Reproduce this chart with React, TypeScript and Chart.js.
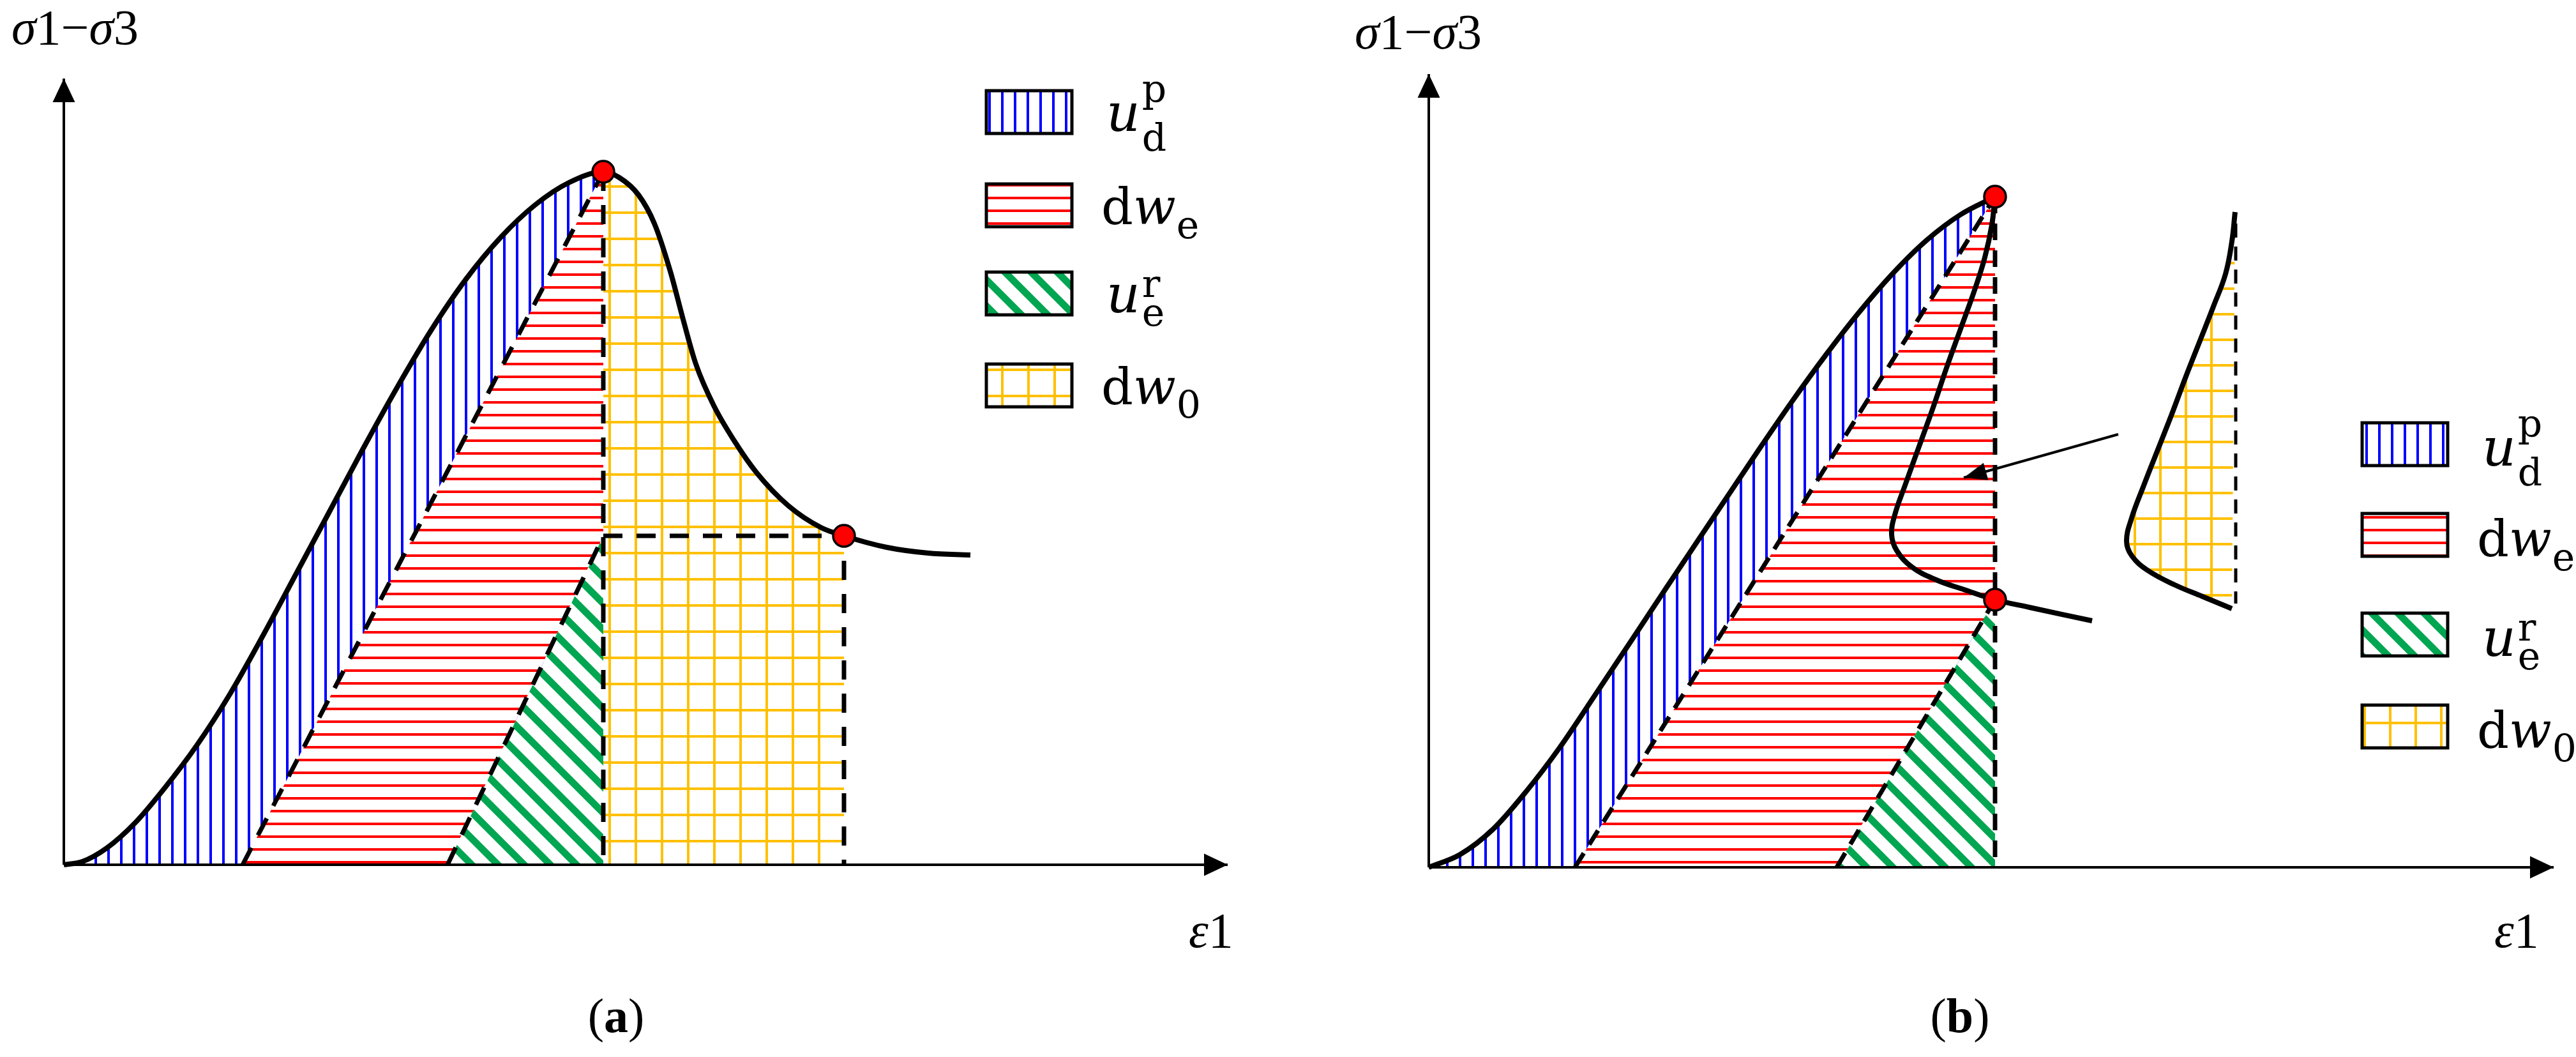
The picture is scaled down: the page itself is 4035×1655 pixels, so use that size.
import React, { useEffect, useRef } from 'react';
import { Chart, registerables } from 'chart.js';

Chart.register(...registerables);

const PAGE_W = 4035;
const PAGE_H = 1655;
const SPLIT_X = 2017;

// ================= Panel (a): strain-softening curve (schematic units) =================
const aCurveX = [0, 0.29, 0.67, 1.12, 1.57, 2.09, 2.6, 3.12, 3.63, 4.15, 4.69, 5.23, 5.76, 6.3, 6.84, 7.38, 7.91, 8.45, 8.7, 9.0, 9.25, 9.5, 9.7, 9.9, 10.18, 10.5, 10.85, 11.35, 11.86, 12.22, 12.89, 13.54, 14.2];
const aCurveY = [0, 0.05, 0.26, 0.66, 1.19, 1.88, 2.67, 3.59, 4.54, 5.51, 6.52, 7.49, 8.38, 9.17, 9.82, 10.33, 10.68, 10.85, 10.76, 10.49, 10.04, 9.29, 8.54, 7.84, 7.19, 6.64, 6.14, 5.62, 5.28, 5.15, 4.97, 4.88, 4.85];
const aPeakUnloadX = [2.8, 8.45];
const aPeakUnloadY = [0, 10.85];
const aResUnloadX = [6.01, 8.45];
const aResUnloadY = [0, 5.15];
const aPeakDropX = [8.45, 8.45];
const aPeakDropY = [10.85, 0];
const aResGuideX = [8.45, 12.22, 12.22];
const aResGuideY = [5.15, 5.15, 0];
const aDotX = [8.45, 12.22];
const aDotY = [10.85, 5.15];
const aAxisTip = [18.23, 12.31];

// ================= Panel (b): snap-back curve (schematic units) =================
const bLoadX = [0, 0.49, 1.01, 1.52, 2.04, 2.62, 3.2, 3.71, 4.62, 5.15, 5.68, 6.21, 6.74, 7.27, 7.8, 8.33, 8.87];
const bLoadY = [0, 0.2, 0.6, 1.18, 1.86, 2.72, 3.59, 4.36, 5.72, 6.51, 7.28, 8.01, 8.69, 9.3, 9.82, 10.22, 10.5];
const bSnapX = [8.87, 8.82, 8.71, 8.55, 8.33, 8.11, 7.9, 7.68, 7.46, 7.3, 7.25, 7.33, 7.57, 7.95, 8.38, 8.87, 9.41, 10.39];
const bSnapY = [10.5, 10.06, 9.55, 9.04, 8.43, 7.82, 7.2, 6.59, 5.98, 5.52, 5.21, 4.96, 4.7, 4.5, 4.35, 4.19, 4.07, 3.86];
const bInsetX = [12.63, 12.58, 12.48, 12.29, 12.07, 11.85, 11.64, 11.42, 11.2, 11.01, 10.93, 11.01, 11.26, 11.69, 12.12, 12.58];
const bInsetY = [10.26, 9.8, 9.29, 8.78, 8.22, 7.66, 7.1, 6.54, 5.98, 5.47, 5.11, 4.88, 4.65, 4.42, 4.24, 4.05];
const bInsetEdgeX = [12.64, 12.64];
const bInsetEdgeY = [10.08, 4.13];
const bPeakUnloadX = [2.29, 8.87];
const bPeakUnloadY = [0, 10.5];
const bResUnloadX = [6.39, 8.87];
const bResUnloadY = [0, 4.19];
const bPeakDropX = [8.87, 8.87];
const bPeakDropY = [10.5, 0];
const bDotX = [8.87, 8.87];
const bDotY = [10.5, 4.19];
const bPointerX = [10.8, 8.38];
const bPointerY = [6.78, 6.1];
const bAxisTip = [17.62, 12.42];

// ================= Text =================
const legendLabels = ['u_d^p', 'dw_e', 'u_e^r', 'dw_0'];
const axisTitleY = 'σ1−σ3';
const axisTitleX = 'ε1';
const panelTags = ['a', 'b'];

// ================= styling helpers =================
const SERIF = "'Liberation Serif', 'Times New Roman', serif";
const MATH = "'DejaVu Serif', serif";
const BLUE = '#0000FF';
const RED = '#FF0000';
const GREEN = '#00A651';
const YELLOW = '#FFC000';
const NONE = 'rgba(0,0,0,0)';

const zip = (xs: number[], ys: number[]) => xs.map((x, i) => ({ x, y: ys[i] }));

function tile(w: number, h: number, draw: (g: CanvasRenderingContext2D) => void) {
  const c = document.createElement('canvas');
  c.width = w;
  c.height = h;
  const g = c.getContext('2d')!;
  g.fillStyle = '#fff';
  g.fillRect(0, 0, w, h);
  draw(g);
  return c;
}

function makePatterns(ctx: CanvasRenderingContext2D, gridStep: number, gx: number, gy: number) {
  const blue = ctx.createPattern(tile(20, 20, (g) => { g.fillStyle = BLUE; g.fillRect(8, 0, 4, 20); }), 'repeat');
  const red = ctx.createPattern(tile(20, 20, (g) => { g.fillStyle = RED; g.fillRect(0, 8, 20, 4); }), 'repeat');
  const green = ctx.createPattern(tile(41, 41, (g) => {
    g.strokeStyle = GREEN;
    g.lineWidth = 11;
    g.beginPath();
    for (const k of [-1, 0, 1]) {
      g.moveTo(-41, -41 + k * 41);
      g.lineTo(82, 82 + k * 41);
    }
    g.stroke();
  }), 'repeat');
  const yellow = ctx.createPattern(tile(gridStep, gridStep, (g) => {
    g.fillStyle = YELLOW;
    g.fillRect(gx, 0, 4, gridStep);
    g.fillRect(0, gy, gridStep, 4);
  }), 'repeat');
  return { blue, red, green, yellow } as any;
}

function arrowHead(len: number, width: number) {
  const s = Math.ceil(len) * 2 + 4;
  const c = document.createElement('canvas');
  c.width = s;
  c.height = s;
  const g = c.getContext('2d')!;
  const m = s / 2;
  g.fillStyle = '#000';
  g.beginPath();
  g.moveTo(m, m);
  g.lineTo(m - len, m - width / 2);
  g.lineTo(m - len, m + width / 2);
  g.closePath();
  g.fill();
  return c;
}

type Run = { t: string; f?: string; size: number; dy?: number; dx?: number; stack?: boolean };

function drawRuns(ctx: CanvasRenderingContext2D, x: number, y: number, runs: Run[], family: string, draw = true) {
  let pen = x;
  let lastX = x;
  let end = x;
  for (const r of runs) {
    ctx.font = `${r.f ? r.f + ' ' : ''}${r.size}px ${family}`;
    const w = ctx.measureText(r.t).width;
    const rx = r.stack ? lastX : pen + (r.dx || 0);
    if (draw) ctx.fillText(r.t, rx, y + (r.dy || 0));
    lastX = rx;
    end = Math.max(end, rx + w);
    pen = end;
  }
  return end - x;
}

const mathRuns = (s: string, size: number): Run[] =>
  [...s].map((ch) => ({ t: ch, size, f: /[α-ω]/.test(ch) ? 'italic' : undefined }));

const scriptShift: Record<string, [number, number]> = { 'u_d^p': [-45, 31], 'u_e^r': [-24, 21] };

function legendRuns(label: string): Run[] {
  const [head, sup] = label.split('^');
  const [base, sub] = head.split('_');
  const runs: Run[] = [...base].map((ch) => ({
    t: ch,
    size: ch === 'u' ? 82 : 78,
    f: ch === 'u' || ch === 'w' ? 'italic' : undefined,
  }));
  const shift = scriptShift[label];
  if (sup) {
    runs.push({ t: sup, size: 60, dy: shift ? shift[0] : -30, dx: 3 });
    if (sub) runs.push({ t: sub, size: 60, dy: shift ? shift[1] : 22, stack: true });
  } else if (sub) {
    runs.push({ t: sub, size: 60, dy: 22, dx: 1 });
  }
  return runs;
}

type Layout = {
  yTitle: [number, number];
  xTitle: [number, number];
  caption: [number, number];
  legendX: number;
  legendTops: number[];
  legendDy: number;
  tag: string;
};

function annotPlugin(L: Layout, pat: any) {
  return {
    id: 'annot',
    afterDraw(chart: any) {
      const ctx: CanvasRenderingContext2D = chart.ctx;
      ctx.save();
      ctx.textAlign = 'left';
      ctx.textBaseline = 'alphabetic';
      ctx.fillStyle = '#000';
      drawRuns(ctx, L.yTitle[0], L.yTitle[1], mathRuns(axisTitleY, 78), SERIF);
      drawRuns(ctx, L.xTitle[0], L.xTitle[1], mathRuns(axisTitleX, 78), SERIF);
      const cap: Run[] = [{ t: '(', size: 76 }, { t: L.tag, size: 76, f: 'bold' }, { t: ')', size: 76 }];
      const cw = drawRuns(ctx, 0, 0, cap, SERIF, false);
      drawRuns(ctx, L.caption[0] - cw / 2, L.caption[1], cap, SERIF);
      const fills = [pat.blue, pat.red, pat.green, pat.yellow];
      const bw = 134;
      const bh = 67;
      legendLabels.forEach((lab, i) => {
        const top = L.legendTops[i];
        ctx.fillStyle = fills[i];
        ctx.fillRect(L.legendX, top, bw, bh);
        ctx.lineWidth = 5;
        ctx.strokeStyle = '#000';
        ctx.strokeRect(L.legendX, top, bw, bh);
        ctx.fillStyle = '#000';
        const tx = L.legendX + bw + (lab.startsWith('u') ? 54 : 46);
        drawRuns(ctx, tx, top + bh / 2 + L.legendDy, legendRuns(lab), MATH);
      });
      ctx.restore();
    },
  };
}

const ARROW_AXIS = () => arrowHead(37, 35);
const ARROW_SMALL = () => arrowHead(36, 28);

function rotationOf(c: any) {
  const r = c.raw;
  const xs = c.chart.scales.x;
  const ys = c.chart.scales.y;
  if (!r) return 0;
  const dx = xs.getPixelForValue(r.x) - xs.getPixelForValue(r.fx);
  const dy = ys.getPixelForValue(r.y) - ys.getPixelForValue(r.fy);
  return (Math.atan2(dy, dx) * 180) / Math.PI;
}

function baseOptions(x0: number, x1: number, y0: number, y1: number) {
  return {
    responsive: false,
    animation: false,
    devicePixelRatio: 1,
    events: [],
    layout: { padding: 0, autoPadding: false },
    plugins: { legend: { display: false }, tooltip: { enabled: false }, title: { display: false } },
    scales: {
      x: { type: 'linear', min: x0, max: x1, bounds: 'data', display: false },
      y: { type: 'linear', min: y0, max: y1, bounds: 'data', display: false },
    },
    elements: { line: { borderCapStyle: 'butt', borderJoinStyle: 'round' } },
  };
}

const solid = (data: any[], width: number, order: number, extra: any = {}) => ({
  data,
  borderColor: '#000',
  borderWidth: width,
  pointRadius: 0,
  fill: false,
  tension: 0,
  order,
  ...extra,
});

const polygon = (data: any[], bg: any, order: number) => ({
  data,
  fill: 'shape',
  backgroundColor: bg,
  borderColor: NONE,
  borderWidth: 0,
  pointRadius: 0,
  tension: 0,
  order,
});

const dots = (xs: number[], ys: number[]) => ({
  data: zip(xs, ys),
  showLine: false,
  pointRadius: 17,
  pointBackgroundColor: RED,
  pointBorderColor: '#000',
  pointBorderWidth: 3.5,
  order: 10,
});

function configA(ctx: CanvasRenderingContext2D) {
  const pat = makePatterns(ctx, 41, 10, 3);
  const curve = zip(aCurveX, aCurveY);
  const peakIdx = aCurveY.indexOf(Math.max(...aCurveY));
  const resIdx = aCurveX.indexOf(aResGuideX[1]);
  const redPoly = [
    { x: aPeakUnloadX[0], y: aPeakUnloadY[0] },
    { x: aPeakUnloadX[1], y: aPeakUnloadY[1] },
    { x: aResUnloadX[1], y: aResUnloadY[1] },
    { x: aResUnloadX[0], y: aResUnloadY[0] },
  ];
  const greenPoly = [
    { x: aResUnloadX[0], y: aResUnloadY[0] },
    { x: aResUnloadX[1], y: aResUnloadY[1] },
    { x: aPeakDropX[1], y: aPeakDropY[1] },
  ];
  const big = ARROW_AXIS();
  const dash = { borderDash: [30, 22] };
  const datasets: any[] = [
    {
      data: curve,
      cubicInterpolationMode: 'monotone',
      borderWidth: 0,
      borderColor: NONE,
      pointRadius: 0,
      fill: 'origin',
      backgroundColor: pat.blue,
      segment: {
        backgroundColor: (c: any) => (c.p0DataIndex < peakIdx ? pat.blue : c.p0DataIndex < resIdx ? pat.yellow : NONE),
      },
      order: 100,
    },
    polygon(redPoly, pat.red, 90),
    polygon(greenPoly, pat.green, 85),
    solid(zip(aPeakUnloadX, aPeakUnloadY), 7, 50, dash),
    solid(zip(aResUnloadX, aResUnloadY), 7, 50, dash),
    solid(zip(aPeakDropX, aPeakDropY), 7, 50, dash),
    solid(zip(aResGuideX, aResGuideY), 7, 50, dash),
    solid(curve, 8, 40, { cubicInterpolationMode: 'monotone' }),
    solid([{ x: 0, y: 0 }, { x: aAxisTip[0], y: 0 }], 4, 30),
    solid([{ x: 0, y: 0 }, { x: 0, y: aAxisTip[1] }], 4, 30),
    {
      data: [
        { x: aAxisTip[0], y: 0, fx: 0, fy: 0 },
        { x: 0, y: aAxisTip[1], fx: 0, fy: 0 },
      ],
      showLine: false,
      pointRadius: 2,
      pointStyle: big,
      rotation: rotationOf,
      order: 20,
    },
    dots(aDotX, aDotY),
  ];
  const layout: Layout = {
    yTitle: [18, 69],
    xTitle: [1862, 1483],
    caption: [965, 1616],
    legendX: 1545,
    legendTops: [142, 288, 426, 570],
    legendDy: 29,
    tag: panelTags[0],
  };
  return {
    type: 'line',
    data: { datasets },
    options: baseOptions(-1.0, 19.17, -3.01, 13.54),
    plugins: [annotPlugin(layout, pat)],
  };
}

function configB(ctx: CanvasRenderingContext2D) {
  const pat = makePatterns(ctx, 40, 5, 10);
  const load = zip(bLoadX, bLoadY);
  const redPoly = [
    { x: bPeakUnloadX[0], y: bPeakUnloadY[0] },
    { x: bPeakUnloadX[1], y: bPeakUnloadY[1] },
    { x: bResUnloadX[1], y: bResUnloadY[1] },
    { x: bResUnloadX[0], y: bResUnloadY[0] },
  ];
  const greenPoly = [
    { x: bResUnloadX[0], y: bResUnloadY[0] },
    { x: bResUnloadX[1], y: bResUnloadY[1] },
    { x: bPeakDropX[1], y: bPeakDropY[1] },
  ];
  const big = ARROW_AXIS();
  const small = ARROW_SMALL();
  const dash = { borderDash: [26, 16] };
  const datasets: any[] = [
    {
      data: load,
      cubicInterpolationMode: 'monotone',
      borderWidth: 0,
      borderColor: NONE,
      pointRadius: 0,
      fill: 'origin',
      backgroundColor: pat.blue,
      order: 100,
    },
    polygon(redPoly, pat.red, 90),
    polygon(greenPoly, pat.green, 85),
    {
      data: zip(bInsetX, bInsetY),
      fill: 'shape',
      backgroundColor: pat.yellow,
      borderColor: '#000',
      borderWidth: 8,
      pointRadius: 0,
      tension: 0.4,
      order: 80,
    },
    solid(zip(bPeakUnloadX, bPeakUnloadY), 7, 50, dash),
    solid(zip(bResUnloadX, bResUnloadY), 7, 50, dash),
    solid(zip(bPeakDropX, bPeakDropY), 7, 50, dash),
    solid(zip(bInsetEdgeX, bInsetEdgeY), 5, 50, { borderDash: [22, 14] }),
    solid(load, 8, 40, { cubicInterpolationMode: 'monotone' }),
    solid(zip(bSnapX, bSnapY), 8, 40, { tension: 0.4 }),
    solid(zip(bPointerX, bPointerY), 4, 35),
    solid([{ x: 0, y: 0 }, { x: bAxisTip[0], y: 0 }], 4, 30),
    solid([{ x: 0, y: 0 }, { x: 0, y: bAxisTip[1] }], 4, 30),
    {
      data: [
        { x: bAxisTip[0], y: 0, fx: 0, fy: 0 },
        { x: 0, y: bAxisTip[1], fx: 0, fy: 0 },
        { x: bPointerX[1], y: bPointerY[1], fx: bPointerX[0], fy: bPointerY[0], small: true },
      ],
      showLine: false,
      pointRadius: 2,
      pointStyle: (c: any) => (c.raw && c.raw.small ? small : big),
      rotation: rotationOf,
      order: 20,
    },
    dots(bDotX, bDotY),
  ];
  const layout: Layout = {
    yTitle: [105, 76],
    xTitle: [1890, 1483],
    caption: [1053, 1616],
    legendX: 1683,
    legendTops: [662, 804, 960, 1104],
    legendDy: 33,
    tag: panelTags[1],
  };
  return {
    type: 'line',
    data: { datasets },
    options: baseOptions(-2.21, 17.97, -2.97, 13.58),
    plugins: [annotPlugin(layout, pat)],
  };
}

function Panel({ left, width, make }: { left: number; width: number; make: (ctx: CanvasRenderingContext2D) => any }) {
  const ref = useRef<HTMLCanvasElement>(null);
  useEffect(() => {
    const canvas = ref.current!;
    const chart = new Chart(canvas, make(canvas.getContext('2d')!));
    return () => chart.destroy();
  }, [make]);
  return (
    <canvas
      ref={ref}
      width={width}
      height={PAGE_H}
      style={{ position: 'absolute', left, top: 0, width, height: PAGE_H }}
    />
  );
}

export default function App() {
  return (
    <div style={{ position: 'absolute', left: 0, top: 0, width: PAGE_W, height: PAGE_H, background: '#fff', overflow: 'hidden' }}>
      <Panel left={0} width={SPLIT_X} make={configA} />
      <Panel left={SPLIT_X} width={PAGE_W - SPLIT_X} make={configB} />
    </div>
  );
}
